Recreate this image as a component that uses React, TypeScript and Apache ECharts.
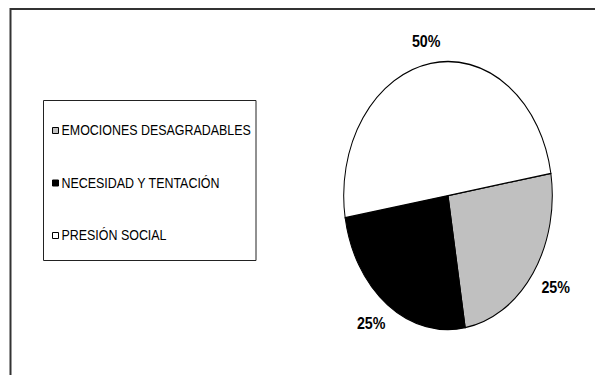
import React, { useEffect, useRef } from 'react';
import * as echarts from 'echarts';

const categories = ['EMOCIONES DESAGRADABLES', 'NECESIDAD Y TENTACIÓN', 'PRESIÓN SOCIAL'];
const values = [25, 25, 50];
const sliceColors = ['#c0c0c0', '#000000', '#ffffff'];

const FONT = '"Liberation Sans", Arial, sans-serif';
const CX = 448;
const CY = 195.5;
const RX = 104.3;
const RY = 134;
const START_DEG = 9.5;
const LEG_X = 52;
const LEG_Y0 = 130.5;
const LEG_STEP = 52.5;
const NARROW = 0.83;

export default function App() {
  const ref = useRef<HTMLDivElement>(null);
  useEffect(() => {
    const chart = echarts.init(ref.current!, null, { renderer: 'svg' });
    const total = values.reduce((a, b) => a + b, 0);
    const series = categories.map((name, i) => {
      const before = values.slice(0, i).reduce((a, b) => a + b, 0);
      return {
        type: 'custom',
        name,
        coordinateSystem: 'none',
        data: [values[i]],
        itemStyle: { color: sliceColors[i] },
        silent: true,
        renderItem: (params: any, api: any) => {
          const v = api.value(0) as number;
          const a0 = (START_DEG * Math.PI) / 180 - (before / total) * 2 * Math.PI;
          const sweep = (v / total) * 2 * Math.PI;
          const mid = a0 - sweep / 2;
          const pct = Math.round((v / total) * 100) + '%';
          return {
            type: 'group',
            children: [
              {
                type: 'sector',
                shape: { cx: CX, cy: CY, r: RX, r0: 0, startAngle: -a0, endAngle: -a0 + sweep, clockwise: true },
                scaleY: RY / RX,
                originX: CX,
                originY: CY,
                style: { fill: sliceColors[i], stroke: '#000', lineWidth: 1, strokeNoScale: true },
              },
              {
                type: 'text',
                x: CX + (RX + 28) * Math.cos(mid),
                y: CY - (RY + 23) * Math.sin(mid),
                scaleX: 0.84,
                style: {
                  text: pct,
                  fill: '#000',
                  fontSize: 17,
                  fontWeight: 'bold',
                  fontFamily: FONT,
                  align: 'center',
                  verticalAlign: 'middle',
                },
              },
            ],
          };
        },
      };
    });
    const legendItems: any[] = [];
    categories.forEach((name, i) => {
      const y = LEG_Y0 + i * LEG_STEP;
      legendItems.push({
        type: 'rect',
        shape: { x: LEG_X + 0.5, y: y - 3, width: 6, height: 6 },
        style: { fill: sliceColors[i], stroke: '#000', lineWidth: 1 },
        silent: true,
      });
      legendItems.push({
        type: 'text',
        x: 61.5,
        y,
        scaleX: NARROW,
        style: {
          text: name,
          fill: '#000',
          fontSize: 15,
          fontFamily: FONT,
          align: 'left',
          verticalAlign: 'middle',
        },
        silent: true,
      });
    });
    chart.setOption({
      animation: false,
      backgroundColor: '#fff',
      graphic: [
        {
          type: 'rect',
          shape: { x: 10.5, y: 9, width: 620, height: 420 },
          style: { fill: 'none', stroke: '#333', lineWidth: 2 },
          silent: true,
        },
        {
          type: 'rect',
          shape: { x: 43.5, y: 100.5, width: 212.5, height: 160 },
          style: { fill: 'none', stroke: '#222', lineWidth: 1 },
          silent: true,
        },
        ...legendItems,
      ],
      series,
    });
    return () => chart.dispose();
  }, []);
  return <div ref={ref} style={{ position: 'absolute', left: 0, top: 0, width: 595, height: 375 }} />;
}
